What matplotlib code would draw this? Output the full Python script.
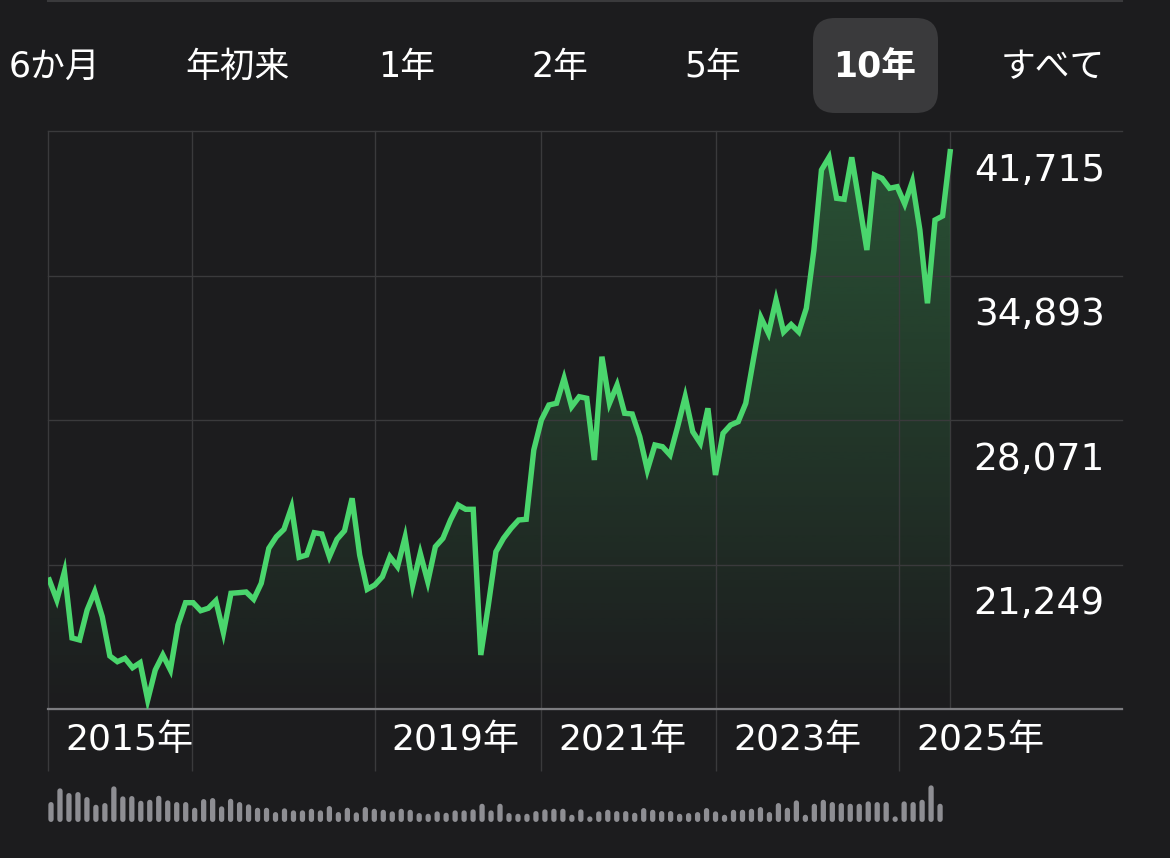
import matplotlib
matplotlib.use("Agg")
import matplotlib.pyplot as plt
import numpy as np
from matplotlib.patches import Polygon, FancyBboxPatch

plt.rcParams['font.family'] = ['DejaVu Sans', 'Noto Sans CJK JP']
plt.rcParams['path.simplify'] = False

### data
tabs      = ["6か月", "年初来", "1年", "2年", "5年", "10年", "すべて"]
tab_sel   = "10年"

# monthly closes, 10 years
prices = [20518, 19574, 20910, 17780, 17685, 19101, 19965, 18785, 16930, 16661,
          16821, 16377, 16613, 14853, 16269, 16977, 16269, 18393, 19446, 19446,
          19068, 19182, 19541, 18030, 19890, 19918, 19951, 19607, 20362, 22014,
          22562, 22911, 23950, 21589, 21698, 22751, 22689, 21618, 22439, 22845,
          24375, 21698, 20079, 20282, 20673, 21618, 21146, 22534, 20282, 21778,
          20437, 22090, 22486, 23350, 24058, 23855, 23855, 16977, 19337, 21854,
          22486, 22958, 23350, 23383, 26655, 28071, 28779, 28860, 30040, 28699,
          29171, 29096, 26183, 31060, 28860, 29724, 28388, 28355, 27283, 25711,
          26891, 26811, 26419, 27755, 29171, 27519, 26971, 28624, 25475, 27443,
          27835, 27991, 28860, 30904, 32910, 32164, 33737, 32226, 32580, 32226,
          33345, 36097, 39874, 40473, 38538, 38491, 40473, 38302, 36097, 39638,
          39482, 39010, 39085, 38269, 39321, 37041, 33581, 37513, 37702, 40738]

# y grid values (labels shown under each line, bottom one unlabeled)
ygrid   = [14427, 21249, 28071, 34893, 41715]

# year grid positions (in month-index units) and labels
xgrid   = [-0.17, 18.85, 43.0, 64.97, 88.1, 112.3]
xlabels = ["2015年", "", "2019年", "2021年", "2023年", "2025年"]

# volume strip (relative heights)
volume = [20, 33.7, 29, 30, 25, 17.3, 19, 35.7, 25.7, 26,
          21.3, 22.3, 26.3, 21.7, 20, 20, 14.3, 23, 24, 15.7,
          23.3, 20, 17.7, 14.3, 14.3, 10, 13.7, 11.7, 11.7, 13.3,
          11.7, 16, 10, 14.3, 9.7, 15, 13.3, 12.3, 10.7, 13.3,
          12.3, 9, 8.3, 10.7, 9.3, 11.7, 11.7, 12.7, 18.3, 11.7,
          18.3, 9, 8.3, 8.3, 11, 12.7, 13.3, 13.3, 7.3, 12.7,
          5.7, 10.7, 12.3, 11, 11, 9.3, 14, 12.3, 11, 11,
          8.3, 9, 10, 14, 10.7, 7.3, 12.3, 12.3, 13.3, 15,
          10, 19, 14.3, 21.7, 7.3, 18.3, 22.3, 20, 19, 18.3,
          18.3, 20.7, 20, 20, 3.3, 20.7, 20, 22.3, 36.7, 18.3]

### style
BG    = '#1c1c1e'
GRID  = '#3a3a3c'
BASE  = '#7c7c80'
GREEN = '#4ad66d'
VOLC  = '#8e8e93'
W, H  = 1170, 858

fig = plt.figure(figsize=(W/100, H/100), dpi=100, facecolor=BG)

### overlay in pixel coords for the tab bar
ov = fig.add_axes([0, 0, 1, 1], zorder=0)
ov.set_xlim(0, W); ov.set_ylim(H, 0); ov.axis('off')
ov.plot([48, 1122], [1, 1], color=GRID, lw=1.5)
tab_x = [54, 237, 407, 560, 713, 875, 1053]
for lab, tx in zip(tabs, tab_x):
    if lab == tab_sel:
        ov.add_patch(FancyBboxPatch((813, 18), 125, 95,
                     boxstyle='round,pad=0,rounding_size=22',
                     fc='#3a3a3c', ec='none'))
        ov.text(tx, 67, lab, color='white', fontsize=25, fontweight='bold',
                ha='center', va='center')
    else:
        ov.text(tx, 67, lab, color='white', fontsize=25,
                ha='center', va='center')

### main price chart
ax = fig.add_axes([48/W, 1-709/H, 1074/W, 578/H], zorder=2)
ax.set_facecolor('none')
x = np.arange(len(prices))
y = np.array(prices)
ymin, ymax = ygrid[0], ygrid[-1]

# gradient fill under the line
poly = Polygon(np.column_stack([np.r_[x, x[-1], x[0]], np.r_[y, ymin, ymin]]),
               closed=True, fc='none', ec='none')
ax.add_patch(poly)
grad = np.zeros((256, 1, 4))
grad[..., :3] = matplotlib.colors.to_rgb(GREEN)
grad[:, 0, 3] = np.linspace(0.30, 0.0, 256)
im = ax.imshow(grad, extent=[x[0], x[-1], ymin, ymax], aspect='auto',
               origin='upper', zorder=1)
im.set_clip_path(poly)

ax.plot(x, y, color=GREEN, lw=3.9, solid_joinstyle='miter', zorder=3)

ax.set_xlim(-0.17, 141.7)
ax.set_ylim(ymin, ymax)
for s in ax.spines.values():
    s.set_visible(False)

ax.set_yticks(ygrid)
ax.set_xticks(xgrid)
ax.set_yticklabels([]); ax.set_xticklabels([])
ax.tick_params(axis='y', length=0)
ax.tick_params(axis='x', direction='out', length=44.6, width=1, color=GRID)
ax.grid(True, color=GRID, lw=1)
for gl in ax.get_xgridlines() + ax.get_ygridlines():
    gl.set_clip_on(False)
ax.axvline(x[-1], color=GRID, lw=1, zorder=0.5)
ax.axhline(ymin, color=BASE, lw=1.6, zorder=2, clip_on=False)

for v in ygrid[1:]:
    ax.annotate(f"{v:,}", xy=(0.984, v), xycoords=('axes fraction', 'data'),
                xytext=(0, -28.5), textcoords='offset points',
                ha='right', va='center', fontsize=27, color='white')
for xp, lab in zip(xgrid, xlabels):
    if lab:
        ax.annotate(lab, xy=(xp, ymin), xycoords='data',
                    xytext=(12.2, -22.5), textcoords='offset points',
                    ha='left', va='center', fontsize=26, color='white',
                    annotation_clip=False)

### volume strip (rounded pills)
vax = fig.add_axes([48/W, 1-822/H, 1074/W, 42/H], zorder=2)
vax.set_facecolor('none')
vax.set_xlim(-0.334, 119.26)
vax.set_ylim(0, 42)
vax.axis('off')
r = 2.65
vh = np.array(volume)
lc = vax.vlines(np.arange(len(vh)), r, np.maximum(vh - r, r + 0.4),
                color=VOLC, lw=3.8)
lc.set_capstyle('round')
lc.set_snap(False)

fig.savefig('out.png', dpi=100, facecolor=BG)
